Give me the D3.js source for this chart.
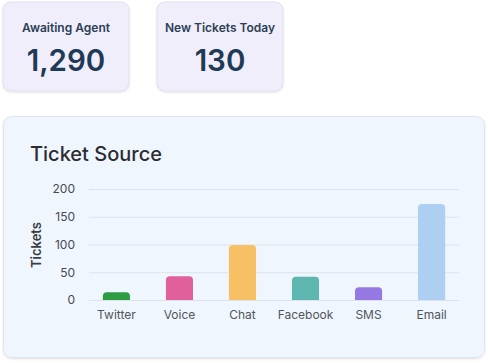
<!DOCTYPE html>
<html>
<head>
<meta charset="utf-8">
<script src="https://cdn.jsdelivr.net/npm/d3@7"></script>
<style>
  html, body { margin: 0; padding: 0; background: #fff; }
  body { width: 488px; height: 363px; overflow: hidden; font-family: Inter, "Noto Sans", sans-serif; }
  svg { display: block; }
</style>
</head>
<body>
<svg id="chart" width="488" height="363"></svg>
<script>
// KPI cards
const kpiLabels = ["Awaiting Agent", "New Tickets Today"];
const kpiValues = [1290, 130];

// Ticket source bars
const sources = ["Twitter", "Voice", "Chat", "Facebook", "SMS", "Email"];
const tickets = [14, 43, 99, 42, 23, 173];
const sourceColors = ["#2e9c43", "#e0609c", "#f8c064", "#5db7b0", "#9678e2", "#add0f2"];
const yTicks = [0, 50, 100, 150, 200];

const svg = d3.select("#chart");

const defs = svg.append("defs");
const shadow = defs.append("filter").attr("id", "shadow")
  .attr("x", "-10%").attr("y", "-10%").attr("width", "120%").attr("height", "130%");
shadow.append("feDropShadow").attr("dx", 0).attr("dy", 1).attr("stdDeviation", 1.2)
  .attr("flood-color", "#000").attr("flood-opacity", 0.12);

// cards
const cardX = d3.scaleOrdinal().domain(kpiLabels).range([3, 157]);
const cards = svg.selectAll("g.card").data(kpiLabels).join("g")
  .attr("class", "card")
  .attr("transform", d => "translate(" + cardX(d) + ",2)");

cards.append("rect")
  .attr("width", 126).attr("height", 89).attr("rx", 8)
  .attr("fill", "#f1eefc").attr("stroke", "#e2def0").attr("stroke-width", 1)
  .attr("filter", "url(#shadow)");

cards.append("text")
  .attr("x", 63).attr("y", 30)
  .attr("text-anchor", "middle")
  .attr("font-size", 12).attr("font-weight", 600)
  .attr("fill", "#2b3f55")
  .text(d => d);

cards.append("text")
  .attr("x", 63).attr("y", 69)
  .attr("text-anchor", "middle")
  .attr("font-size", 29.5).attr("font-weight", 600)
  .attr("fill", "#1e3a56")
  .text((d, i) => d3.format(",")(kpiValues[i]));

// chart panel
svg.append("rect")
  .attr("x", 3.5).attr("y", 116.5).attr("width", 481).attr("height", 241).attr("rx", 8)
  .attr("fill", "#f0f6fd").attr("stroke", "#dfe5ed").attr("stroke-width", 1)
  .attr("filter", "url(#shadow)");

svg.append("text")
  .attr("x", 30).attr("y", 161)
  .attr("font-size", 20).attr("font-weight", 500)
  .attr("fill", "#2c2d33")
  .text("Ticket Source");

const x = d3.scaleBand().domain(sources).range([89, 459]).paddingInner(0.57).paddingOuter(0.22);
const y = d3.scaleLinear().domain([0, 200]).range([300, 189]);

// gridlines
svg.append("g").selectAll("line").data(yTicks).join("line")
  .attr("x1", 89).attr("x2", 459)
  .attr("y1", d => y(d) + 0.5).attr("y2", d => y(d) + 0.5)
  .attr("stroke", "#dde3ea").attr("stroke-width", 1);

// y axis
const yAxis = svg.append("g")
  .attr("transform", "translate(80,0)")
  .call(d3.axisLeft(y).tickValues(yTicks).tickSize(0).tickPadding(5));
yAxis.select(".domain").remove();
yAxis.selectAll("text")
  .attr("font-family", "Inter, sans-serif")
  .attr("font-size", 12).attr("fill", "#454a52");

svg.append("text")
  .attr("transform", "translate(41,245) rotate(-90)")
  .attr("text-anchor", "middle")
  .attr("font-size", 13).attr("font-weight", 600)
  .attr("fill", "#3a3d44")
  .text("Tickets");

// bars with rounded tops
const r = 4;
svg.append("g").selectAll("path").data(sources).join("path")
  .attr("fill", (d, i) => sourceColors[i])
  .attr("d", (d, i) => {
    const x0 = x(d), w = x.bandwidth(), y0 = y(tickets[i]), yb = y(0);
    const p = d3.path();
    p.moveTo(x0, yb);
    p.lineTo(x0, y0 + r);
    p.quadraticCurveTo(x0, y0, x0 + r, y0);
    p.lineTo(x0 + w - r, y0);
    p.quadraticCurveTo(x0 + w, y0, x0 + w, y0 + r);
    p.lineTo(x0 + w, yb);
    p.closePath();
    return p.toString();
  });

// x axis
const xAxis = svg.append("g")
  .attr("transform", "translate(0,300)")
  .call(d3.axisBottom(x).tickSize(0).tickPadding(10));
xAxis.select(".domain").remove();
xAxis.selectAll("text")
  .attr("font-family", "Inter, sans-serif")
  .attr("font-size", 12).attr("fill", "#51555c");
</script>
</body>
</html>
